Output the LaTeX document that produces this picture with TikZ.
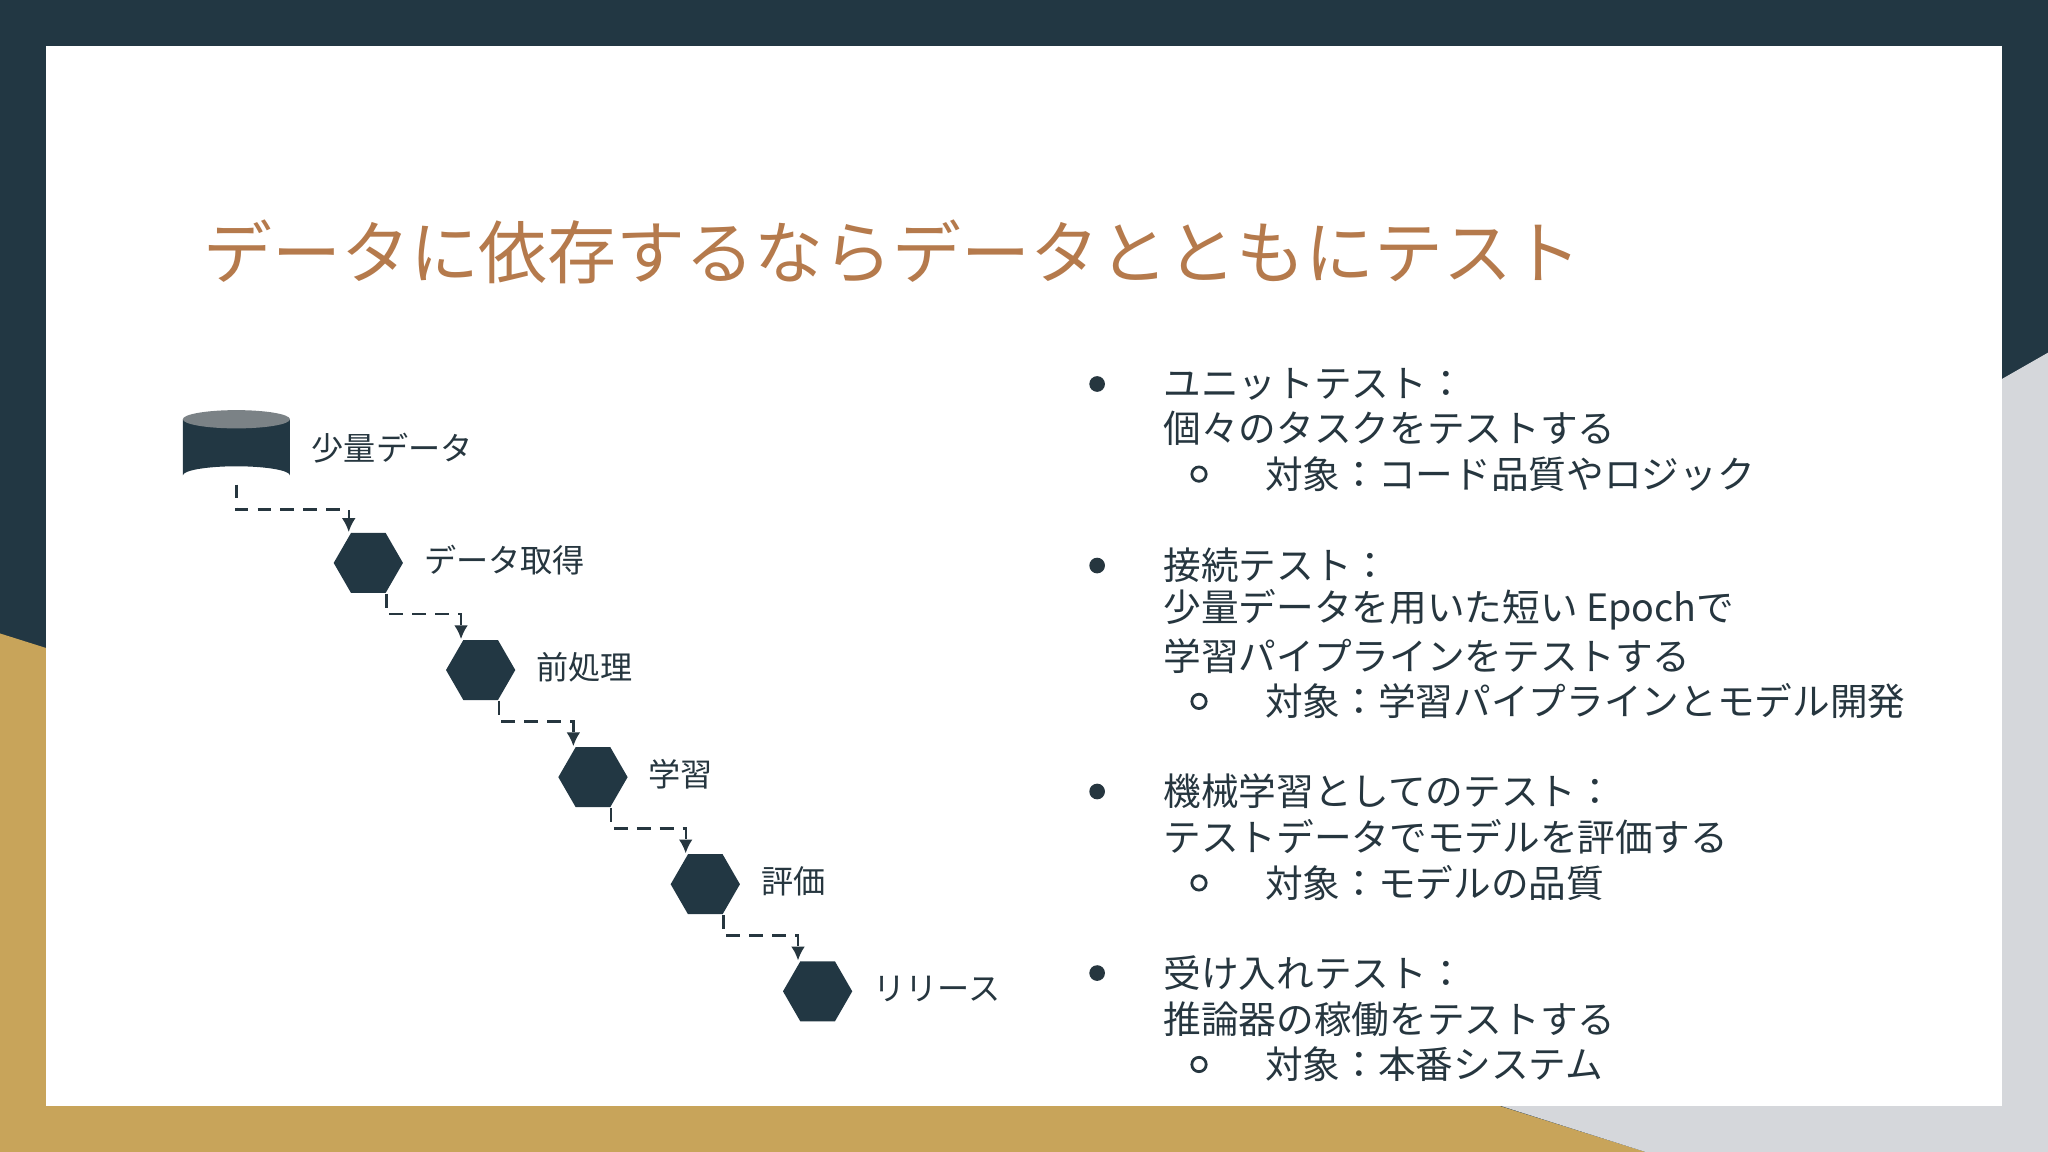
\documentclass[tikz,border=0pt]{standalone}
\usepackage{fontspec}
\setmainfont{Noto Sans CJK JP}
\usetikzlibrary{shapes.geometric,arrows.meta}
\definecolor{navy}{HTML}{223743}
\definecolor{gold}{HTML}{C8A45A}
\definecolor{lgray}{HTML}{D5D7DB}
\definecolor{ttl}{HTML}{B57A4C}
\definecolor{txt}{HTML}{26363F}
\begin{document}
\begin{tikzpicture}[x=0.01cm,y=-0.01cm,
  hexa/.style={regular polygon,regular polygon sides=6,fill=navy,draw=none,minimum size=0.53cm,inner sep=0},
  lbl/.style={anchor=west,text=txt,font=\fontsize{7pt}{8pt}\selectfont,inner sep=0},
  body/.style={anchor=west,text=txt,font=\fontsize{8.2pt}{9pt}\selectfont,inner sep=0},
  conn/.style={draw=txt,densely dashed,line width=0.5pt,-{Latex[length=3pt,width=3pt]}}]
\useasboundingbox (0,0) rectangle (1568,882);
\fill[navy] (0,0) rectangle (1568,882);
\fill[gold] (0,485) -- (1260,882) -- (0,882) -- cycle;
\fill[lgray] (1568,270) -- (1568,882) -- (1260,882) -- (1150,847) -- (1533,290) -- cycle;
\fill[white] (35,35) rectangle (1533,847);
\node[anchor=west,text=ttl,font=\fontsize{15pt}{17pt}\selectfont,inner sep=0] (title) at (155,193) {データに依存するならデータとともにテスト};
% cylinder
\fill[navy] (140,321) -- (140,364) arc[start angle=180,end angle=360,x radius=41,y radius=7] -- (222,321) -- cycle;
\fill[gray!60!navy!80] (181,321) ellipse[x radius=41,y radius=7];
\coordinate (cyl) at (181,371);
\node[lbl] (l0) at (238,343) {少量データ};
\foreach \i/\x/\y/\t in {1/282/431/データ取得,2/368/513/前処理,3/454/595/学習,4/540/677/評価,5/626/759/リリース}{
  \node[hexa] (h\i) at (\x,\y) {};
  \node[lbl] (l\i) at (\x+42,\y-2) {\t};
}
\draw[conn] (cyl) |- (267,390) -- (h1.north -| 267,0);
\foreach \a/\b in {1/2,2/3,3/4,4/5}{
  \draw[conn] ([xshift=0.14cm]h\a.south) |- ([xshift=-0.15cm,yshift=0.19cm]h\b.north) -- ([xshift=-0.15cm]h\b.north);
}
% list
\foreach \y in {294,433,606,745}{\fill[txt] (840,\y) circle (6);}
\foreach \y in {363,537,676,815}{\draw[txt,line width=0.6pt] (918,\y) circle (5.5);}
\node[body] (a1) at (890,294) {ユニットテスト：};
\node[body] (a2) at (890,328) {個々のタスクをテストする};
\node[body] (a3) at (968,363) {対象：コード品質やロジック};
\node[body] (b1) at (890,433) {接続テスト：};
\node[body] (b2) at (890,467) {少量データを用いた短い Epochで};
\node[body] (b3) at (890,502) {学習パイプラインをテストする};
\node[body] (b4) at (968,537) {対象：学習パイプラインとモデル開発};
\node[body] (c1) at (890,606) {機械学習としてのテスト：};
\node[body] (c2) at (890,641) {テストデータでモデルを評価する};
\node[body] (c3) at (968,676) {対象：モデルの品質};
\node[body] (d1) at (890,745) {受け入れテスト：};
\node[body] (d2) at (890,780) {推論器の稼働をテストする};
\node[body] (d3) at (968,815) {対象：本番システム};
\end{tikzpicture}
\end{document}
